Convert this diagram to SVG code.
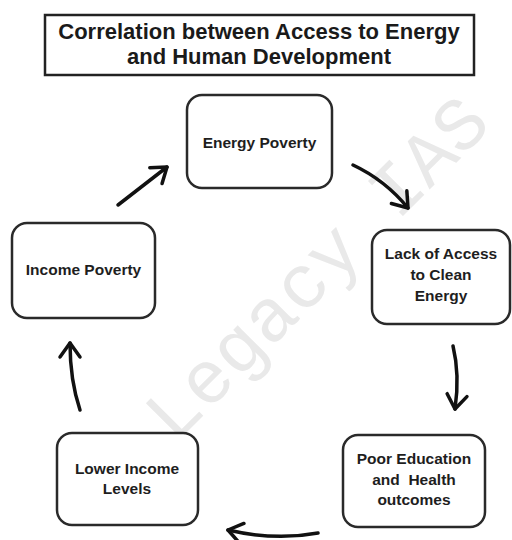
<svg xmlns="http://www.w3.org/2000/svg" width="512" height="540" viewBox="0 0 512 540">
  <style>
    .title { font-family: "Liberation Sans", Arial, sans-serif; font-weight: bold; font-size: 22px; fill: #1a1a1a; text-anchor: middle; }
    .box { fill: #ffffff; stroke: #2a2a2a; stroke-width: 2.5; }
    .label { font-family: "Liberation Sans", Arial, sans-serif; font-weight: bold; font-size: 15.5px; fill: #1e1e1e; text-anchor: middle; }
    .flow { fill: none; stroke: #111111; stroke-width: 3.5; stroke-linecap: round; }
    .mark { font-family: "Liberation Mono", "Courier New", monospace; font-size: 75px; fill: #e9e9e9; text-anchor: middle; }
  </style>
  <defs>
    <marker id="vhead" markerUnits="userSpaceOnUse" viewBox="-20 -14 26 28" refX="0" refY="0" markerWidth="26" markerHeight="28" orient="auto">
      <path d="M-14,-10 L0,0 L-14,10" fill="none" stroke="#111111" stroke-width="3.5" stroke-linecap="round" stroke-linejoin="round"/>
    </marker>
  </defs>

  <rect width="512" height="540" fill="#ffffff"/>

  <!-- faint diagonal watermark -->
  <text class="mark" x="334" y="285" transform="rotate(-45 334 285)">Legacy IAS</text>

  <!-- heading -->
  <g id="title">
    <rect x="45" y="15" width="429" height="60" fill="#ffffff" stroke="#222222" stroke-width="2.5"/>
    <text class="title" x="259" y="39">Correlation between Access to Energy</text>
    <text class="title" x="259" y="64">and Human Development</text>
  </g>

  <!-- cycle stages -->
  <g id="energy-poverty">
    <rect class="box" x="187" y="95" width="145" height="93" rx="15"/>
    <text class="label" x="259.5" y="148" font-size="17">Energy Poverty</text>
  </g>

  <g id="lack-of-access">
    <rect class="box" x="372" y="230" width="138" height="94" rx="15"/>
    <text class="label" x="441" y="259">Lack of Access</text>
    <text class="label" x="441" y="280">to Clean</text>
    <text class="label" x="441" y="301">Energy</text>
  </g>

  <g id="poor-education">
    <rect class="box" x="343" y="435" width="142" height="92" rx="15"/>
    <text class="label" x="414" y="464">Poor Education</text>
    <text class="label" x="414" y="485" xml:space="preserve">and  Health</text>
    <text class="label" x="414" y="505">outcomes</text>
  </g>

  <g id="lower-income">
    <rect class="box" x="57" y="433" width="141" height="92" rx="15"/>
    <text class="label" x="127" y="474">Lower Income</text>
    <text class="label" x="127" y="494">Levels</text>
  </g>

  <g id="income-poverty">
    <rect class="box" x="12" y="223" width="143" height="95" rx="15"/>
    <text class="label" x="83.5" y="275" font-size="16.5">Income Poverty</text>
  </g>

  <!-- arrows between stages -->
  <g id="connectors">
    <path class="flow" d="M118,205 L167,167" marker-end="url(#vhead)"/>
    <path class="flow" d="M353,165 Q385,180 408,208" marker-end="url(#vhead)"/>
    <path class="flow" d="M453,346 Q460,375 455,409" marker-end="url(#vhead)"/>
    <path class="flow" d="M318,533 Q275,541 228,530" marker-end="url(#vhead)"/>
    <path class="flow" d="M80,410 Q70,380 70,343" marker-end="url(#vhead)"/>
  </g>
</svg>
